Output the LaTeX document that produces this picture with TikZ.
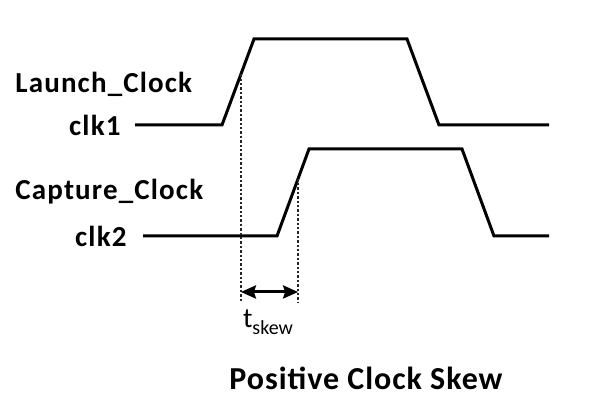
\documentclass[tikz,border=0pt]{standalone}
\usepackage{fontspec}
\setmainfont{Carlito}
\newfontfamily\spacedfont[LetterSpace=4]{Carlito}
\usetikzlibrary{positioning, arrows.meta, calc}
\tikzset{skewtip/.tip={Stealth[length=7.5pt,width=6.5pt,inset=1pt]}}

\begin{document}
\begin{tikzpicture}[x=0.5pt, y=-0.5pt,
    wave/.style={line width=1.5pt, line join=miter},
    guide/.style={densely dotted, line width=1.2pt, black!85},
    label/.style={font=\spacedfont\fontsize{14.5}{16}\selectfont\bfseries, inner sep=0pt}]
        \useasboundingbox (0,0) rectangle (590,415);
        \coordinate (A1) at (135,125);
        \coordinate (A2) at (222,125);
        \coordinate (A3) at (254,39);
        \coordinate (A4) at (407,39);
        \coordinate (A5) at (439,125);
        \coordinate (A6) at (549,125);
        \coordinate (B1) at (143,236);
        \coordinate (B2) at (277,236);
        \coordinate (B3) at (309,149);
        \coordinate (B4) at (462,149);
        \coordinate (B5) at (494,236);
        \coordinate (B6) at (549,236);
        \coordinate (C1) at ($(A2)!0.59!(A3)$);
        \coordinate (C2) at ($(B2)!0.66!(B3)$);
        \coordinate (E) at (0,303);
        \coordinate (F) at (0,292);
        \coordinate (D1) at (C1 |- E);
        \coordinate (D2) at (C2 |- E);
        \draw[wave] (A1) -- (A2) -- (A3) -- (A4) -- (A5) -- (A6);
        \draw[wave] (B1) -- (B2) -- (B3) -- (B4) -- (B5) -- (B6);
        \draw[guide] (C1) -- (D1);
        \draw[guide] (C2) -- (D2);
        \draw[line width=1.5pt, skewtip-skewtip] (C1 |- F) -- (C2 |- F);
        \node[label, anchor=west] (launch) at (15,84) {Launch\_Clock};
        \node[label, left=7pt of A1] (clka) {clk1};
        \node[label, anchor=west] (capture) at (15,192) {Capture\_Clock};
        \node[label, left=8pt of B1] (clkb) {clk2};
        \node[font=\fontsize{14}{16}\selectfont] (skew) at (268,322) {t\raisebox{-0.5ex}{\fontsize{10}{11}\selectfont skew}};
        \node[font=\addfontfeatures{LetterSpace=3}\fontsize{16}{19}\selectfont\bfseries] (title) at (366,378) {Positive Clock Skew};
\end{tikzpicture}
\end{document}
